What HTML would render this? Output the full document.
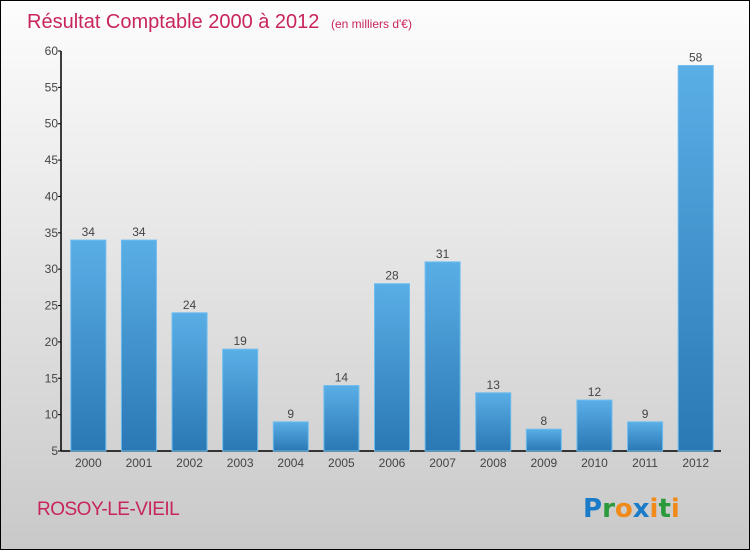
<!DOCTYPE html>
<html><head><meta charset="utf-8"><style>
body{margin:0;width:750px;height:550px;overflow:hidden;font-family:"Liberation Sans",sans-serif}
#frame{position:absolute;left:0;top:0;width:748px;height:548px;border:1px solid #000;background:linear-gradient(#fdfdfd,#c9c9c9)}
</style></head><body>
<div id="frame">
<svg width="750" height="550">
<defs><linearGradient id="bg" x1="0" y1="0" x2="0" y2="1"><stop offset="0" stop-color="#5aaee6"/><stop offset="1" stop-color="#2a78b4"/></linearGradient></defs>
<text x="26" y="27" font-size="20" fill="#c8255a">Résultat Comptable 2000 à 2012 <tspan font-size="12" dx="6">(en milliers d'€)</tspan></text>
<g id="yaxis"></g>
<g id="bars"></g>
<text x="36" y="514" font-size="19" fill="#c8255a" letter-spacing="-0.5">ROSOY-LE-VIEIL</text>
<text x="582" y="516" font-size="26" font-weight="bold" font-family="DejaVu Sans, sans-serif"><tspan fill="#1a7cc8">P</tspan><tspan fill="#2a9a3a">r</tspan><tspan fill="#f08a1a">o</tspan><tspan fill="#1a7cc8">x</tspan><tspan fill="#f08a1a">i</tspan><tspan fill="#2a9a3a">t</tspan><tspan fill="#f08a1a">i</tspan></text>
</svg></div>
<script>
const categories=["2000","2001","2002","2003","2004","2005","2006","2007","2008","2009","2010","2011","2012"];
const values=[34,34,24,19,9,14,28,31,13,8,12,9,58];
const yTicks=[5,10,15,20,25,30,35,40,45,50,55,60];
const NS="http://www.w3.org/2000/svg";
const x0=60,x1=720,yB=450,yT=50,vMin=5,vMax=60;
const y=v=>yB-(v-vMin)/(vMax-vMin)*(yB-yT);
const band=(x1-x0-2)/categories.length;
const bx=i=>x0+2+i*band;
function mk(t,a,p){const e=document.createElementNS(NS,t);for(const k in a)e.setAttribute(k,a[k]);p.appendChild(e);return e;}
const ya=document.getElementById('yaxis'),bg=document.getElementById('bars');
yTicks.forEach(v=>{
 const l=mk('line',{x1:x0-3,x2:x0,y1:y(v),y2:y(v),stroke:'#000'},ya);
 
 
 const t=mk('text',{x:x0-3,y:y(v)+4,'text-anchor':'end','font-size':12,fill:'#444'},ya);
 t.textContent=v;
 
 
});
mk('line',{x1:x0,x2:x0,y1:yT,y2:yB,stroke:'#000','stroke-width':1.5},ya);
mk('line',{x1:x0,x2:x1,y1:yB,y2:yB,stroke:'#000','stroke-width':1.5},ya);
categories.forEach((c,i)=>{
 const left=bx(i)+(band-35)/2;
 const r=mk('rect',{x:left,y:y(values[i]),width:35,height:yB-y(values[i]),fill:'url(#bg)',stroke:'#6cbcf0','stroke-width':1},bg);
 
 
 const t=mk('text',{x:left+17.5,y:y(values[i])-4,'text-anchor':'middle','font-size':12,fill:'#444'},bg);
 t.textContent=values[i];
 
 
 const xl=mk('text',{x:left+17.5,y:466,'text-anchor':'middle','font-size':12,fill:'#444'},bg);
 xl.textContent=c;
 
 
});
</script>
</body></html>
